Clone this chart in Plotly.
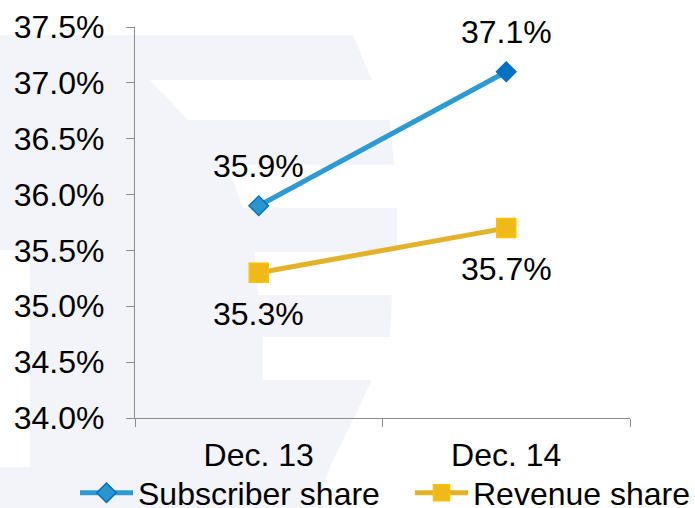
import plotly.graph_objects as go

categories = ["Dec. 13", "Dec. 14"]
subscriber_share = [35.9, 37.1]
revenue_share = [35.3, 35.7]
y_ticks = [34.0, 34.5, 35.0, 35.5, 36.0, 36.5, 37.0, 37.5]

W, H = 695, 508
L, R, T, B = 135, 630, 27, 418

def px(x, y):
    return (x - L) / (R - L), (B - y) / (B - T)

# faint watermark "E" behind the chart (decoration)
wm = [(0, 35), (353, 35), (372, 80), (150, 80), (188, 120), (390, 120), (394, 165),
      (227, 165), (243, 208), (397, 208), (397, 252), (255, 252), (258, 295),
      (392, 295), (390, 337), (263, 337), (263, 380), (372, 380), (330, 467),
      (315, 508), (0, 508), (0, 467), (30, 467), (30, 250), (0, 250)]
path = "M " + " L ".join(f"{px(a, b)[0]:.4f},{px(a, b)[1]:.4f}" for a, b in wm) + " Z"

FS = 32
font = "Arial, Liberation Sans, sans-serif"
fig = go.Figure()
fig.add_trace(go.Scatter(
    x=categories, y=subscriber_share, name="Subscriber share", mode="lines+markers",
    line=dict(color="#2E9AD3", width=5),
    marker=dict(symbol="diamond", size=15, color=["#2B95D0", "#0070C0"],
                line=dict(color="#0070C0", width=1.5)),
    legendwidth=267,
))
fig.add_trace(go.Scatter(
    x=categories, y=revenue_share, name="Revenue share", mode="lines+markers",
    line=dict(color="#E3B22A", width=5),
    marker=dict(symbol="square", size=19, color="#F0B91A",
                line=dict(color="#FFC000", width=1.5)),
))

annotations = []
for c, v in zip(categories, subscriber_share):
    annotations.append(dict(x=c, y=v, text=f"{v:.1f}%", showarrow=False, yshift=40,
                            font=dict(size=FS, color="#000000", family=font)))
for c, v in zip(categories, revenue_share):
    annotations.append(dict(x=c, y=v, text=f"{v:.1f}%", showarrow=False, yshift=-41,
                            font=dict(size=FS, color="#000000", family=font)))

fig.update_layout(
    width=W, height=H,
    margin=dict(l=L, r=W - R, t=T, b=H - B, pad=0, autoexpand=False),
    paper_bgcolor="white", plot_bgcolor="rgba(0,0,0,0)",
    font=dict(family=font, size=FS, color="#000000"),
    showlegend=True,
    legend=dict(orientation="h", x=(75 - L) / (R - L), xanchor="left",
                y=(B - 493) / (B - T), yanchor="middle",
                font=dict(size=FS), bgcolor="rgba(0,0,0,0)", itemwidth=53),
    annotations=annotations,
    shapes=[dict(type="path", path=path, xref="paper", yref="paper",
                 fillcolor="#F3F4FA", line=dict(width=0), layer="below")],
)
fig.update_xaxes(type="category", range=[-0.5, 1.5], showline=True, linecolor="#8C8C8C",
                 linewidth=1.3, ticks="outside", ticklen=8, tickcolor="#8C8C8C",
                 tickson="boundaries", showgrid=False, zeroline=False,
                 ticklabelstandoff=8, tickfont=dict(size=FS))
fig.update_yaxes(range=[34.0, 37.5], tickvals=y_ticks,
                 ticktext=[f"{t:.1f}%" for t in y_ticks], showline=True,
                 linecolor="#8C8C8C", linewidth=1.3, ticks="outside", ticklen=8,
                 tickcolor="#8C8C8C", showgrid=False, zeroline=False,
                 ticklabelstandoff=15, tickfont=dict(size=FS))

fig.write_html("out.html", config={"displayModeBar": False},
               post_script="document.body.style.margin='0';document.body.style.overflow='hidden';")
